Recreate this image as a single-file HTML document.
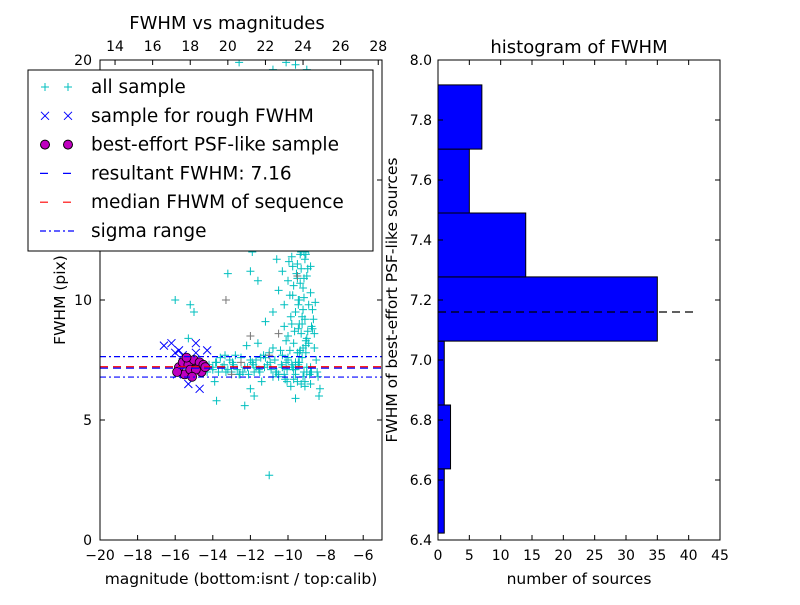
<!DOCTYPE html>
<html><head><meta charset="utf-8"><style>
body{margin:0;background:#fff}
svg text{font-family:"DejaVu Sans","Liberation Sans",sans-serif;fill:#000}
</style></head><body>
<svg id="c" width="800" height="600" viewBox="0 0 800 600" xmlns="http://www.w3.org/2000/svg"></svg>
<script>
const allMag=[-14.2,-14,-13.8,-13.5,-13.3,-13.1,-12.9,-12.7,-12.5,-12.3,-12.1,-11.9,-11.7,-11.5,-11.3,-11.1,-10.9,-10.7,-10.5,-10.3,-10.1,-13.6,-12.6,-11.8,-11,-10.6,-10.2,-12.8,-13.9,-12.2,-11.6,-10.8,-11.4,-12,
-10,-9.8,-9.6,-9.4,-9.2,-9,-9.5,-9.3,-9.1,-9.4,-9.2,-9,-9.6,-9.8,-10,-10.2,-9.7,-9.5,-9.3,-9.1,-8.9,-8.8,-8.7,-8.6,-8.5,-8.4,-8.3,-8.35,-8.8,-9,-9.2,-9.6,-9.8,-10,-9.9,-9.7,-9.5,-9.3,-9.1,-8.9,-9.4,-9.2,-9,-9.7,-9.5,-9.3,-9.8,-10.1,-10.3,-10.5,-10.8,-11.2,-10.6,-10.4,-10.7,-9.1,-9.4,-8.95,-8.8,-8.7,-8.6,-9.6,-10.4,-11.6,-12,-13.2,-15.2,-15.5,-15.3,-15.8,-15.6,-14.5,-14.6,-14.2,-16.0,-15.3,-15.0,-13.0,-11,-13.8,-11.8,-12.3,-9.6,-10.2,-11.9,
-10.8,-10.1,-9.6,-9.0,-11.4,-12.6,-13.8,-13.6,-11.3,-10.9,-9.35,-9.05,-8.75,-9.85,-10.05,
-9.45,-9.25,-9.15,-9.35,-9.55,-9.05,-8.85,-9.65,-9.75,-9.45,-9.25,-9.05,-8.95,-9.15,-9.35,-9.55,-9.75,-9.95,-9.85,-9.65,-9.45,-9.25,-9.05,-8.9,-8.75,-8.65,-8.55,-8.45,-9.5,-9.3,-9.1,-9.7,-9.9,-10.1,-9.2,-9.4,-9.6,-9.0,-8.8,-9.35,-9.15,-8.95,-9.55,-9.75,-9.45,
-14.0,-13.7,-13.4,-13.2,-12.95,-12.4,-12.15,-11.85,-11.55,-11.25,-10.95,-10.65,-10.35,-10.05,-9.75,-9.45,-9.15,-8.85,-12.0,-11.2,-10.8,-10.5,-10.3,-10.0,-9.7,-9.4,-9.1,-8.8,-11.7,-11.45,-12.55,-13.35,-13.85,-14.3,-10.15];
const allFwhm=[7.3,7.1,7.4,7.2,7.0,7.5,7.3,7.1,7.6,7.2,6.9,7.4,7.2,7.0,7.7,7.3,7.1,7.5,6.8,7.2,7.4,7.6,6.9,7.0,7.8,7.0,6.9,7.7,6.6,8.1,8.2,8.0,6.6,6.3,
8.5,9,9.5,10,10.5,11,11.5,12,12.5,13,13.5,14,12.8,11.8,10.8,9.8,8.2,7.8,8.6,9.2,9.8,10.3,8.8,8.0,7.5,6.8,6.3,6.0,7.2,7.0,6.8,6.9,7.3,7.6,10.2,10.6,10.9,11.3,11.7,12.1,9.0,9.6,8.4,12.2,13.6,14.2,13.3,12.4,11.2,10.4,9.5,9.1,11.7,13.2,12.9,15.0,14.7,13.0,11.4,9.6,8.6,7.4,7.9,10.8,11.2,11.1,9.8,12.8,12.5,13.8,14.3,13.5,14.2,12.9,10.0,8.4,9.5,7.0,2.7,5.8,6.0,5.6,5.9,8.9,12.0,
19.6,19.9,19.8,19.6,19.3,19.9,12.7,12.8,12.9,12.9,7.9,8.3,7.0,6.4,6.6,
8.8,9.3,10.1,10.7,11.1,11.9,12.3,12.6,11.4,10.0,9.0,8.1,8.7,10.9,12.9,13.9,13.1,11.6,9.3,8.7,7.3,7.6,7.8,8.2,8.9,9.2,9.9,7.0,6.6,6.5,6.4,7.1,7.9,8.3,8.0,7.4,7.1,7.2,7.0,11.9,12.0,11.3,13.2,10.2,9.8,
7.2,7.0,7.3,7.1,7.4,7.0,7.2,7.3,7.1,7.2,7.4,7.0,7.3,7.1,7.2,7.4,7.0,6.9,7.5,7.6,6.8,6.9,7.7,7.5,6.7,7.8,6.6,6.5,7.5,7.6,6.9,7.7,7.4,7.0,6.7];
const grayMag=[-13.3,-12.0,-11,-9.5,-9.2,-10.5,-15.4,-15.6,-13.0,-12.5];
const grayFwhm=[10.0,8.5,7.7,11,12.3,8.6,13.0,12.9,6.9,7.4];
const roughMag=[-16.6,-16.2,-16.0,-15.8,-15.6,-14.9,-14.9,-14.3,-15.3,-14.7,-15.9];
const roughFwhm=[8.1,8.2,7.8,7.9,7.7,8.2,7.8,7.9,6.5,6.3,6.9];
const psfMag=[-15.8,-15.6,-15.5,-15.3,-15.2,-15.0,-14.8,-14.7,-14.6,-14.5,-15.9,-15.4,-14.9,-15.1,-14.4];
const psfFwhm=[7.2,7.4,6.9,7.3,7.1,7.5,7.2,7.4,7.0,7.3,7.0,7.6,7.1,6.8,7.2];
const resultFwhm=7.16, medianFwhm=7.22, sigmaLow=6.79, sigmaHigh=7.64;
const bottomTicks=[-20,-18,-16,-14,-12,-10,-8,-6];
const topTicks=[14,16,18,20,22,24,26,28];
const leftYTicks=[0,5,10,15,20];
const binEdges=[6.423,6.637,6.85,7.063,7.277,7.49,7.703,7.917];
const binCounts=[1,2,1,35,14,5,7];
const histXTicks=[0,5,10,15,20,25,30,35,40,45];
const histYTicks=[6.4,6.6,6.8,7.0,7.2,7.4,7.6,7.8,8.0];

const S=document.getElementById('c');const NS='http://www.w3.org/2000/svg';
function mk(t,a,p){const e=document.createElementNS(NS,t);for(const k in a)e.setAttribute(k,a[k]);(p||S).appendChild(e);return e;}
const L={x0:100,x1:382,y0:60,y1:540};
const lx=m=>L.x0+(m+20)/15*(L.x1-L.x0);
const ltx=m=>L.x0+(m-13.2)/15*(L.x1-L.x0);
const ly=f=>L.y1-f/20*(L.y1-L.y0);
const gL=mk('g',{});
const cl=mk('clipPath',{id:'clL'},gL);mk('rect',{x:L.x0,y:L.y0,width:L.x1-L.x0,height:L.y1-L.y0},cl);
const pts=mk('g',{'clip-path':'url(#clL)'},gL);
function plus(x,y,c,p){const e=mk('path',{d:`M${x-4} ${y}h8M${x} ${y-4}v8`,stroke:c,'stroke-width':1,fill:'none'},p);return e;}
for(let i=0;i<allMag.length;i++){const e=plus(lx(allMag[i]),ly(allFwhm[i]),'#00bfbf',pts);

}
for(let i=0;i<grayMag.length;i++){const e=plus(lx(grayMag[i]),ly(grayFwhm[i]),'#777',pts);

}
for(let i=0;i<roughMag.length;i++){const x=lx(roughMag[i]),y=ly(roughFwhm[i]);const e=mk('path',{d:`M${x-4} ${y-4}l8 8M${x-4} ${y+4}l8 -8`,stroke:'#00f','stroke-width':1},pts);

}
for(let i=0;i<psfMag.length;i++){const e=mk('circle',{cx:lx(psfMag[i]),cy:ly(psfFwhm[i]),r:4.5,fill:'#bf00bf',stroke:'#000','stroke-width':0.8},pts);

}
function hline(v,c,dash,name){const e=mk('line',{x1:L.x0,x2:L.x1,y1:ly(v),y2:ly(v),stroke:c,'stroke-width':1.2,'stroke-dasharray':dash},pts);

}
hline(sigmaHigh,'#00f','6 3 2 3','sigma-high-line');hline(sigmaLow,'#00f','6 3 2 3','sigma-low-line');
hline(resultFwhm,'#00f','8 5','resultant-fwhm-line');hline(medianFwhm,'#f00','8 5','median-fwhm-line');
mk('rect',{x:L.x0,y:L.y0,width:L.x1-L.x0,height:L.y1-L.y0,fill:'none',stroke:'#000','stroke-width':1},gL);
bottomTicks.forEach(t=>{const x=lx(t);mk('path',{d:`M${x} ${L.y1}v-5`,stroke:'#000'},gL);
const e=mk('text',{x:x,y:L.y1+20,'font-size':14,'text-anchor':'middle'},gL);e.textContent='\u2212'+Math.abs(t);});
topTicks.forEach(t=>{const x=ltx(t);mk('path',{d:`M${x} ${L.y0}v5`,stroke:'#000'},gL);
const e=mk('text',{x:x,y:L.y0-9,'font-size':14,'text-anchor':'middle'},gL);e.textContent=t;});
leftYTicks.forEach(t=>{const y=ly(t);mk('path',{d:`M${L.x0} ${y}h5M${L.x1} ${y}h-5`,stroke:'#000'},gL);
const e=mk('text',{x:L.x0-8,y:y+5,'font-size':14,'text-anchor':'end'},gL);e.textContent=t;});
let t=mk('text',{x:227,y:29,'font-size':18,'text-anchor':'middle'},gL);t.textContent='FWHM vs magnitudes';
t=mk('text',{x:241,y:584,'font-size':15.5,'text-anchor':'middle'},gL);t.textContent='magnitude (bottom:isnt / top:calib)';
t=mk('text',{x:65,y:300,'font-size':15.5,'text-anchor':'middle',transform:'rotate(-90 65 300)'},gL);t.textContent='FWHM (pix)';
const lg=mk('g',{});
mk('rect',{x:28,y:70,width:345,height:181,fill:'#fff',stroke:'#000','stroke-width':1},lg);
const rows=[['all sample','plus'],['sample for rough FWHM','x'],['best-effort PSF-like sample','o'],['resultant FWHM: 7.16','db'],['median FHWM of sequence','dr'],['sigma range','dd']];
rows.forEach((r,i)=>{const y=87+i*28.8;const g=mk('g',{},lg);
[45,68].forEach(x=>{if(r[1]=='plus')plus(x,y,'#00bfbf',g);else if(r[1]=='x')mk('path',{d:`M${x-4} ${y-4}l8 8M${x-4} ${y+4}l8 -8`,stroke:'#00f'},g);else if(r[1]=='o')mk('circle',{cx:x,cy:y,r:4.5,fill:'#bf00bf',stroke:'#000'},g);});
if(r[1][0]=='d')mk('line',{x1:40,x2:75,y1:y,y2:y,stroke:r[1]=='dr'?'#f00':'#00f','stroke-width':1.2,'stroke-dasharray':r[1]=='dd'?'6 3 2 3':'8 15'},g);
const e=mk('text',{x:91,y:y+6,'font-size':18.5},g);e.textContent=r[0];});
const R={x0:438,x1:720,y0:60,y1:540};
const hx=v=>R.x0+v/45*(R.x1-R.x0);const hy=v=>R.y1-(v-6.4)/1.6*(R.y1-R.y0);
const gR=mk('g',{});
binCounts.forEach((c,i)=>{const e=mk('rect',{x:hx(0),y:hy(binEdges[i+1]),width:hx(c)-hx(0),height:hy(binEdges[i])-hy(binEdges[i+1]),fill:'#0000ff',stroke:'#000','stroke-width':1},gR);

});
t=mk('line',{x1:hx(0),x2:hx(41.3),y1:hy(resultFwhm),y2:hy(resultFwhm),stroke:'#000','stroke-width':1.2,'stroke-dasharray':'8 5'},gR);
mk('rect',{x:R.x0,y:R.y0,width:R.x1-R.x0,height:R.y1-R.y0,fill:'none',stroke:'#000'},gR);
histXTicks.forEach(v=>{const x=hx(v);mk('path',{d:`M${x} ${R.y1}v-5M${x} ${R.y0}v5`,stroke:'#000'},gR);
const e=mk('text',{x:x,y:R.y1+20,'font-size':14,'text-anchor':'middle'},gR);e.textContent=v;});
histYTicks.forEach(v=>{const y=hy(v);mk('path',{d:`M${R.x0} ${y}h5M${R.x1} ${y}h-5`,stroke:'#000'},gR);
const e=mk('text',{x:R.x0-6,y:y+5,'font-size':14,'text-anchor':'end'},gR);e.textContent=v.toFixed(1);});
t=mk('text',{x:579,y:53,'font-size':18,'text-anchor':'middle'},gR);t.textContent='histogram of FWHM';
t=mk('text',{x:579,y:584,'font-size':15.5,'text-anchor':'middle'},gR);t.textContent='number of sources';
t=mk('text',{x:397,y:300,'font-size':15.5,'text-anchor':'middle',transform:'rotate(-90 397 300)'},gR);t.textContent='FWHM of best-effort PSF-like sources';
</script>
</body></html>
